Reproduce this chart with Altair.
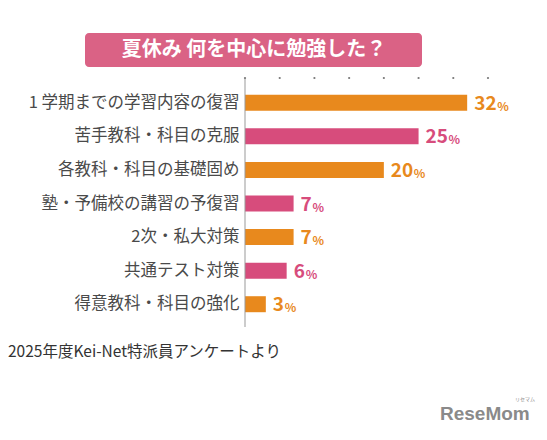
import altair as alt
import pandas as pd

categories = [
    "1 学期までの学習内容の復習",
    "苦手教科・科目の克服",
    "各教科・科目の基礎固め",
    "塾・予備校の講習の予復習",
    "2次・私大対策",
    "共通テスト対策",
    "得意教科・科目の強化",
]
values = [32, 25, 20, 7, 7, 6, 3]
groups = ["o", "p", "o", "p", "o", "p", "o"]
tick_values = [0, 5, 10, 15, 20, 25, 30, 35]

title_text = "夏休み 何を中心に勉強した？"
footer_text = "2025年度Kei-Net特派員アンケートより"

ORANGE = "#E8891D"
PINK = "#D74C7C"
ORANGE_TXT = "#C9692B"
PINK_TXT = "#C94B7E"
FONT = "Noto Sans CJK JP"

df = pd.DataFrame({"cat": categories, "val": values, "grp": groups})
df["lbl"] = df["val"].astype(str)
df["nd"] = df["lbl"].str.len()

W, H = 243, 235
XMAX = 35
xscale = alt.Scale(domain=[0, XMAX], nice=False)

base = alt.Chart(df)

yenc = alt.Y("cat:N", sort=categories, title=None,
             scale=alt.Scale(paddingInner=0.52, paddingOuter=0.26),
             axis=alt.Axis(domain=False, ticks=False, labelFontSize=16.5,
                           labelColor="#4a4a4a", labelFont=FONT, labelPadding=6,
                           labelLimit=300))
xenc = alt.X("val:Q", title=None, scale=xscale, axis=None)

color_scale = alt.Scale(domain=["o", "p"], range=[ORANGE, PINK])
txt_scale = alt.Scale(domain=["o", "p"], range=[ORANGE_TXT, PINK_TXT])

bars = base.mark_bar(size=16).encode(
    x=xenc, y=yenc,
    color=alt.Color("grp:N", scale=color_scale, legend=None),
)

axis_line = alt.Chart(pd.DataFrame({"v": [0]})).mark_rule(color="#999999", strokeWidth=1).encode(
    x=alt.X("v:Q", scale=xscale),
    y=alt.value(-8), y2=alt.value(H + 6),
)

tick_dots = alt.Chart(pd.DataFrame({"t": tick_values})).mark_circle(
    color="#777777", size=5, opacity=1).encode(
    x=alt.X("t:Q", scale=xscale), y=alt.value(-8))

layers = [bars, axis_line, tick_dots]
for nd in [1, 2]:
    sub = base.transform_filter(alt.datum.nd == nd)
    num = sub.mark_text(align="left", baseline="middle", dx=7, dy=1, fontSize=19,
                        fontWeight="bold", font=FONT).encode(
        x=alt.X("val:Q"), y=alt.Y("cat:N", sort=categories), text="lbl:N",
        color=alt.Color("grp:N", scale=txt_scale, legend=None))
    pct = sub.mark_text(align="left", baseline="middle", dx=8 + nd * 11, dy=4, fontSize=12,
                        fontWeight="bold", font=FONT).encode(
        x=alt.X("val:Q"), y=alt.Y("cat:N", sort=categories), text=alt.value("%"),
        color=alt.Color("grp:N", scale=txt_scale, legend=None))
    layers += [num, pct]

one = pd.DataFrame({"t": [title_text]})
title_box = alt.Chart(one).mark_rect(color="#DA6285", cornerRadius=4).encode(
    x=alt.value(-160), x2=alt.value(177), y=alt.value(-53), y2=alt.value(-19))
title_txt = alt.Chart(one).mark_text(color="white", fontSize=20, fontWeight="bold",
                                     font=FONT, align="center", baseline="middle").encode(
    x=alt.value(9), y=alt.value(-36), text="t:N")
footer = alt.Chart(pd.DataFrame({"t": [footer_text]})).mark_text(
    color="#333333", fontSize=15.5, font=FONT, align="left", baseline="middle").encode(
    x=alt.value(-237), y=alt.value(266), text="t:N")
logo = alt.Chart(pd.DataFrame({"t": ["ReseMom"]})).mark_text(
    color="#8a8a8a", fontSize=19, fontWeight="bold", font="Liberation Sans",
    align="left", baseline="middle").encode(
    x=alt.value(195), y=alt.value(328), text="t:N")
logo_small = alt.Chart(pd.DataFrame({"t": ["リセマム"]})).mark_text(
    color="#8a8a8a", fontSize=5, font=FONT, align="left", baseline="middle").encode(
    x=alt.value(270), y=alt.value(313), text="t:N")

layers += [title_box, title_txt, footer, logo, logo_small]

chart = alt.layer(*layers).properties(
    width=W, height=H,
    autosize=alt.AutoSizeParams(type="none"),
    padding={"left": 245, "top": 86, "right": 59, "bottom": 119},
    background="white",
).configure_view(stroke=None)

chart.save("out.html", embed_options={"renderer": "svg", "actions": False})
